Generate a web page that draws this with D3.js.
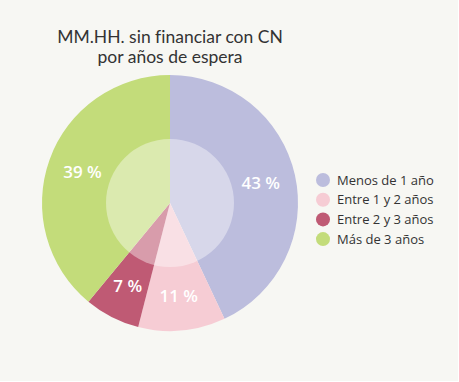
<!DOCTYPE html>
<html><head><meta charset="utf-8">
<script src="https://cdn.jsdelivr.net/npm/d3@7"></script>
<style>
html,body{margin:0;padding:0;background:#fff;}
svg{display:block;}
text{font-variant-ligatures:none;}
</style></head>
<body>
<script>
const categories = ["Menos de 1 año", "Entre 1 y 2 años", "Entre 2 y 3 años", "Más de 3 años"];
const values = [43, 11, 7, 39];
const colors = ["#bcbddd", "#f6ccd4", "#bf5a74", "#c3dc7a"];
const titleLines = ["MM.HH. sin financiar con CN", "por años de espera"];

const W = 459, H = 382;
const svg = d3.select("body").append("svg").attr("width", W).attr("height", H);
svg.append("rect").attr("width", W).attr("height", H).attr("fill", "#ffffff");
svg.append("rect").attr("width", W - 1).attr("height", H - 1).attr("fill", "#f7f7f3");

const font = "'Open Sans', 'Noto Sans', sans-serif";
const titleFont = "Lato, 'Open Sans', sans-serif";
const title = svg.append("text")
  .attr("text-anchor", "middle").attr("font-family", titleFont)
  .attr("font-size", 17.5).attr("fill", "#333");
title.selectAll("tspan").data(titleLines).join("tspan")
  .attr("x", 170).attr("y", (d, i) => 43 + i * 19.5).text(d => d);

const cx = 170, cy = 203, R = 128, r0 = 64;
const data = categories.map((c, i) => ({ c, v: values[i], col: colors[i] }));
const pie = d3.pie().value(d => d.v).sort(null);
const arcs = pie(data);
const arc = d3.arc().innerRadius(0).outerRadius(R);
const labelArc = d3.arc().innerRadius(93).outerRadius(93);

const g = svg.append("g").attr("transform", `translate(${cx},${cy})`);
g.selectAll("path").data(arcs).join("path")
  .attr("d", arc).attr("fill", d => d.data.col);
g.append("circle").attr("r", r0).attr("fill", "#ffffff").attr("fill-opacity", 0.4);
g.selectAll("text.lbl").data(arcs).join("text").attr("class", "lbl")
  .attr("transform", d => `translate(${labelArc.centroid(d)})`)
  .attr("text-anchor", "middle").attr("dy", "0.36em")
  .attr("font-family", font).attr("font-size", 17).attr("font-weight", 600)
  .attr("fill", "#ffffff").text(d => d.data.v + " %");

const leg = svg.append("g");
const rows = leg.selectAll("g").data(data).join("g")
  .attr("transform", (d, i) => `translate(323,${180 + i * 19.7})`);
rows.append("circle").attr("r", 7).attr("fill", d => d.col);
rows.append("text").attr("x", 14).attr("dy", "0.35em")
  .attr("font-family", font).attr("font-size", 13).attr("fill", "#333").text(d => d.c);
</script>
</body></html>
